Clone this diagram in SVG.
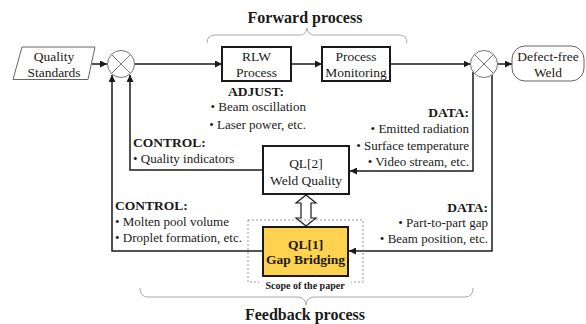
<svg xmlns="http://www.w3.org/2000/svg" width="586" height="324" viewBox="0 0 586 324">
<style>
text{font-family:"Liberation Serif","Times New Roman",serif;fill:#1a1a1a}
.n{font-size:13.5px;text-anchor:middle}
.b{font-size:13px}
.h{font-size:13.5px;font-weight:bold}
.t{font-size:16px;font-weight:bold;text-anchor:middle}
.box{fill:#fff;stroke:#1a1a1a;stroke-width:2}
.thin{fill:#fff;stroke:#666;stroke-width:1}
.ln{fill:none;stroke:#1a1a1a;stroke-width:1.5}
.brace{fill:none;stroke:#aaa;stroke-width:1}
.sum{fill:#fff;stroke:#777;stroke-width:1}
</style>
<defs>
<marker id="ar" viewBox="0 0 10 10" refX="10" refY="5" markerWidth="7" markerHeight="7" markerUnits="userSpaceOnUse" orient="auto">
<path d="M0,0 L10,5 L0,10 z" fill="#1a1a1a"/>
</marker>
</defs>
<g id="titles">
<text class="t" x="305" y="23">Forward process</text>
<path class="brace" d="M207,43 Q207,35 215,35 L300,35 Q306,35 307,28 Q308,35 314,35 L399,35 Q407,35 407,43"/>
<text class="t" x="305" y="320">Feedback process</text>
<path class="brace" d="M140,288 Q140,297 148,297 L298,297 Q305,297 306,305 Q307,297 314,297 L465,297 Q473,297 473,288"/>
</g>
<g id="connectors">
<line class="ln" x1="92" y1="64" x2="107" y2="64" marker-end="url(#ar)"/>
<line class="ln" x1="134.5" y1="64" x2="222" y2="64" marker-end="url(#ar)"/>
<line class="ln" x1="291" y1="64" x2="322" y2="64" marker-end="url(#ar)"/>
<line class="ln" x1="390" y1="64" x2="470.5" y2="64" marker-end="url(#ar)"/>
<line class="ln" x1="497.5" y1="64" x2="512" y2="64" marker-end="url(#ar)"/>
<polyline class="ln" points="473,72 473,171 350,171" marker-end="url(#ar)"/>
<polyline class="ln" points="492,75 492,251 349,251" marker-end="url(#ar)"/>
<polyline class="ln" points="263,170 130,170 130,75" marker-end="url(#ar)"/>
<polyline class="ln" points="263,251 112,251 112,75" marker-end="url(#ar)"/>
<path d="M306,195 L316,203 L311,203 L311,218 L316,218 L306,226 L296,218 L301,218 L301,203 L296,203 Z" fill="#fff" stroke="#1a1a1a" stroke-width="1.2" stroke-linejoin="miter"/>
</g>
<g id="quality-standards">
<polygon class="thin" points="22,47 95,47 88,79.5 13,79.5"/>
<text class="n" x="54" y="61">Quality</text>
<text class="n" x="54" y="77">Standards</text>
</g>
<g id="sum-left">
<circle class="sum" cx="121" cy="64" r="13.5"/>
<path d="M111.5,54.5 L130.5,73.5 M130.5,54.5 L111.5,73.5" stroke="#777" stroke-width="1"/>
</g>
<g id="rlw-process">
<rect class="box" x="222" y="47" width="69" height="34"/>
<text class="n" x="256.5" y="61">RLW</text>
<text class="n" x="256.5" y="77">Process</text>
</g>
<g id="process-monitoring">
<rect class="box" x="322" y="47" width="68" height="34"/>
<text class="n" x="356" y="61">Process</text>
<text class="n" x="356" y="77">Monitoring</text>
</g>
<g id="sum-right">
<circle class="sum" cx="484" cy="64" r="13.5"/>
<path d="M474.5,54.5 L493.5,73.5 M493.5,54.5 L474.5,73.5" stroke="#777" stroke-width="1"/>
</g>
<g id="defect-free-weld">
<rect class="thin" x="512" y="46" width="72" height="35" rx="13"/>
<text class="n" x="548" y="61">Defect-free</text>
<text class="n" x="548" y="77">Weld</text>
</g>
<g id="adjust-label">
<text class="h" x="256" y="96" text-anchor="middle">ADJUST:</text>
<text class="b" x="306" y="111" text-anchor="end">• Beam oscillation</text>
<text class="b" x="306" y="129" text-anchor="end">• Laser power, etc.</text>
</g>
<g id="control-upper">
<text class="h" x="133" y="147">CONTROL:</text>
<text class="b" x="133" y="163">• Quality indicators</text>
</g>
<g id="data-upper">
<text class="h" x="469" y="117" text-anchor="end">DATA:</text>
<text class="b" x="469" y="133" text-anchor="end">• Emitted radiation</text>
<text class="b" x="469" y="150" text-anchor="end">• Surface temperature</text>
<text class="b" x="469" y="166" text-anchor="end">• Video stream, etc.</text>
</g>
<g id="ql2-weld-quality">
<rect class="box" x="263" y="146" width="86" height="48"/>
<text class="n" x="306" y="168">QL[2]</text>
<text class="n" x="306" y="185">Weld Quality</text>
</g>
<g id="control-lower">
<text class="h" x="115" y="210">CONTROL:</text>
<text class="b" x="115" y="226">• Molten pool volume</text>
<text class="b" x="115" y="242">• Droplet formation, etc.</text>
</g>
<g id="data-lower">
<text class="h" x="488" y="212" text-anchor="end">DATA:</text>
<text class="b" x="488" y="227" text-anchor="end">• Part-to-part gap</text>
<text class="b" x="488" y="243" text-anchor="end">• Beam position, etc.</text>
</g>
<g id="scope">
<rect x="248" y="220" width="115" height="62" fill="none" stroke="#999" stroke-width="1" stroke-dasharray="2,2"/>
<rect x="259" y="279" width="92" height="8" fill="#fff"/>
<text x="305" y="289" text-anchor="middle" style="font-size:10px;font-weight:bold">Scope of the paper</text>
</g>
<g id="ql1-gap-bridging">
<rect x="263" y="227" width="85" height="49" fill="#FFD24F" stroke="#1a1a1a" stroke-width="2"/>
<text class="n" x="305.5" y="249" font-weight="bold">QL[1]</text>
<text class="n" x="305.5" y="264" font-weight="bold">Gap Bridging</text>
</g>
</svg>
